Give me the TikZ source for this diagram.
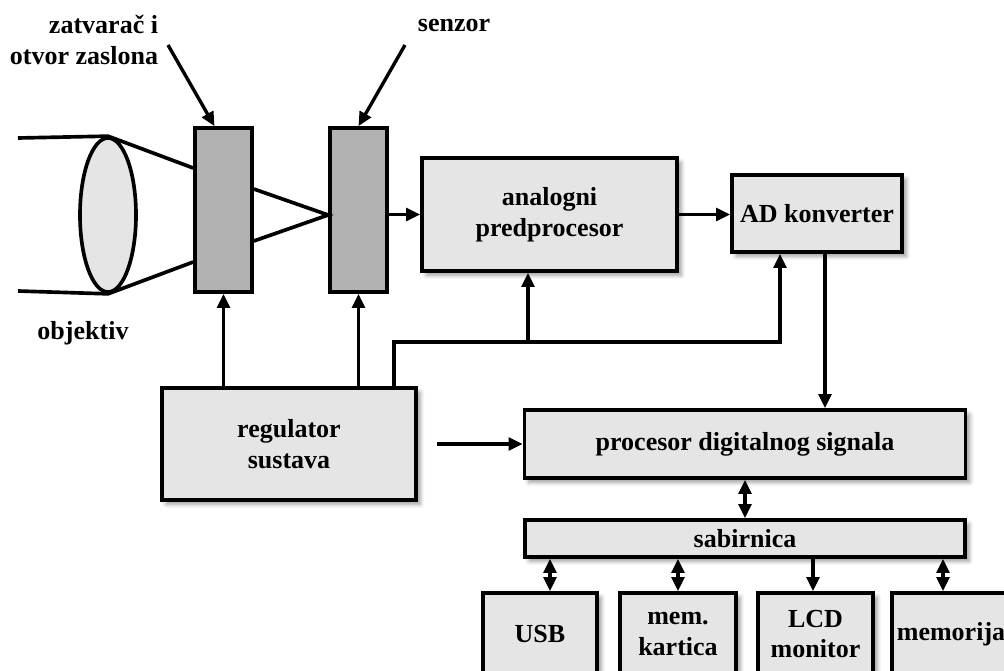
\documentclass[tikz,border=0pt]{standalone}
\usepackage{fontspec}
\setmainfont{Liberation Serif}
\usetikzlibrary{arrows.meta,positioning,shapes.geometric,shadows.blur,calc}

\begin{document}
\begin{tikzpicture}[x=0.025cm, y=-0.025cm,
  font=\fontsize{18.5}{22}\selectfont\bfseries,
  blk/.style={draw, line width=2.6pt, fill=black!10, inner sep=1pt, align=center,
    blur shadow={shadow xshift=3pt, shadow yshift=-3pt, shadow blur radius=3pt, shadow opacity=40}},
  flt/.style={draw, line width=2.6pt, fill=black!30, minimum width=1.425cm, minimum height=4.1cm},
  ln/.style={line width=2.6pt},
  arr/.style={line width=2.4pt, -{Triangle[length=10pt,width=9pt]}},
  darr/.style={line width=2.4pt, {Triangle[length=10pt,width=9pt]}-{Triangle[length=10pt,width=9pt]}}]
  \useasboundingbox (0,0) rectangle (1004,670);
  \clip (0,0) rectangle (1004,670);

  % optika
  \node[flt] (zat) at (223.5,210) {};
  \node[flt] (sen) at (358.5,210) {};
  \node[draw, ellipse, ln, fill=black!10, inner sep=0pt,
    minimum width=1.4cm, minimum height=3.85cm] (obj) at (108,215) {};
  \draw[ln] (18,138) -- (obj.north) -- (zat.west |- 0,168);
  \draw[ln] (18,291) -- (obj.south) -- (zat.west |- 0,262);
  \draw[ln] (zat.east |- 0,189) -- (sen.west |- 0,215) -- (zat.east |- 0,241);

  % oznake
  \node[align=right, anchor=east] (lzat) at (163,40) {zatvarač i\\otvor zaslona};
  \node (lsen) at (454,25) {senzor};
  \node (lobj) at (83,333) {objektiv};
  \coordinate (pz) at (168,45);
  \coordinate (ps) at (405,45);
  \draw[arr] (pz) -- ($(zat.north)+(-9,0)$);
  \draw[arr] (ps) -- (sen.north);

  % blokovi
  \node[blk, minimum width=6.375cm, minimum height=2.825cm] (ana) at (549.5,214.5) {analogni\\predprocesor};
  \node[blk, minimum width=4.25cm, minimum height=1.925cm] (adk) at (817,213.5) {AD konverter};
  \node[blk, minimum width=6.35cm, minimum height=2.8cm] (reg) at (289,444) {regulator\\sustava};
  \node[blk, minimum width=11.025cm, minimum height=1.7cm] (dsp) at (745,444) {procesor digitalnog signala};
  \node[blk, minimum width=11cm, minimum height=0.925cm] (sab) at (745,538.5) {sabirnica};
  \node[blk, minimum width=2.85cm, minimum height=2.05cm] (usb) at (540,634) {USB};
  \node[blk, minimum width=2.9cm, minimum height=2.05cm] (kar) at (678,634) {mem.\\kartica};
  \node[blk, minimum width=2.875cm, minimum height=2.05cm] (lcd) at (815.5,634) {LCD\\monitor};
  \node[blk, minimum width=2.95cm, minimum height=2.05cm] (mem) at (951,634) {memorija};

  % veze
  \draw[arr] (sen.east |- ana.west) -- (ana.west);
  \draw[arr] (ana.east) -- (ana.east -| adk.west);
  \draw[arr] (reg.north -| zat.south) -- (zat.south);
  \draw[arr] (reg.north -| sen.south) -- (sen.south);
  \coordinate (j0) at (394,342);
  \coordinate (j1) at (528,342);
  \coordinate (j2) at (780,342);
  \draw[arr] (reg.north -| j0) -- (j0) -- (j2) -- (adk.south -| j2);
  \draw[arr] (j1) -- (ana.south -| j1);
  \draw[arr] ($(reg.east)+(19,0)$) -- (dsp.west);
  \draw[arr] ($(adk.south)+(8,0)$) coordinate (a1) -- (dsp.north -| a1);
  \draw[darr] (dsp.south) -- (sab.north);
  \foreach \n/\xx/\tip in {usb/550/darr, kar/678/darr, lcd/813/arr, mem/943/darr}
    \draw[\tip] (sab.south -| \xx,0) -- (\n.north -| \xx,0);
\end{tikzpicture}
\end{document}
